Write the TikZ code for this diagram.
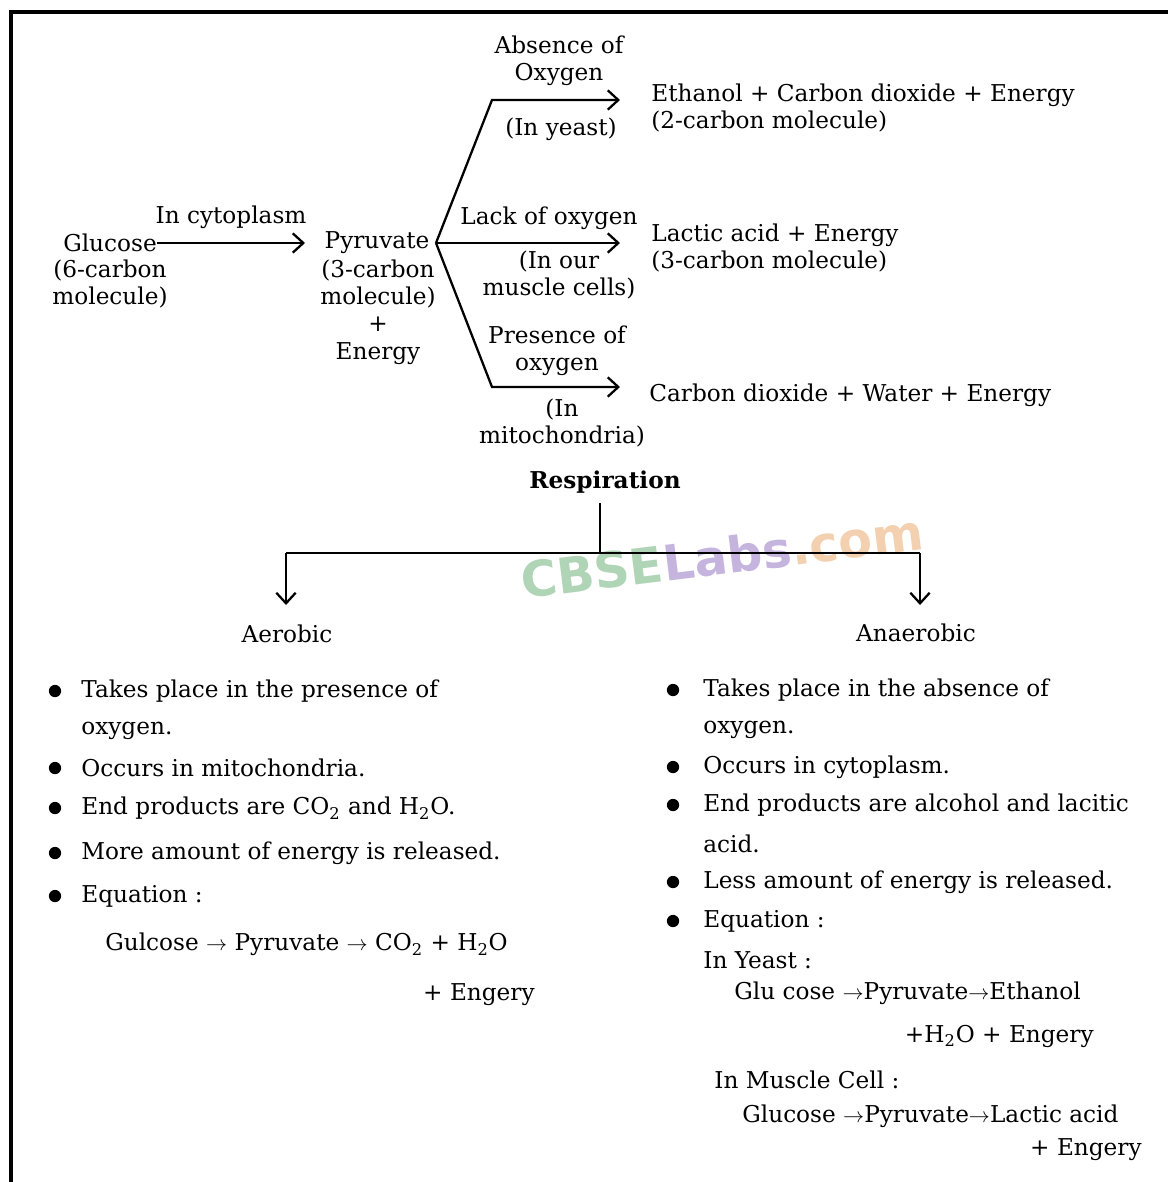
\documentclass[tikz,border=0pt]{standalone}
\usepackage{fontspec}
\setmainfont{DejaVu Serif}
\newfontfamily\markfont{DejaVu Sans}
\usetikzlibrary{arrows.meta,positioning}
\definecolor{markgreen}{RGB}{175,212,182}
\definecolor{markpurple}{RGB}{196,180,222}
\definecolor{markorange}{RGB}{242,208,176}
\tikzset{
  txt/.style={inner sep=0pt, font=\fontsize{13.2}{15.6}\selectfont},
  ctxt/.style={txt, align=center},
  ltxt/.style={txt, anchor=west, align=left},
  rtxt/.style={txt, anchor=east},
  dot/.style={circle, fill=black, inner sep=0pt, minimum size=7pt},
  ln/.style={line width=1.3pt},
  arr/.style={ln, -{Straight Barb[length=6pt,width=11pt]}},
}

\begin{document}
\begin{tikzpicture}[x=0.02cm,y=-0.02cm]
\useasboundingbox (0,0) rectangle (1168,1182);

% watermark
\node[rotate=7, font=\markfont\bfseries\fontsize{28}{28}\selectfont] (mark) at (722,556)
  {\textcolor{markgreen}{CBSE}\textcolor{markpurple}{Labs}\textcolor{markorange}{.com}};

% frame
\draw[line width=2pt] (1168,12) -- (11,12) -- (11,1182);

% glucose to pyruvate
\node[txt] (glu) at (110,243) {Glucose};
\node[ctxt] (glunote) at (110,284) {(6-carbon\\molecule)};
\node[txt] (cyto) at (231,217) {In cytoplasm};
\node[txt] (pyr) at (377,243) {Pyruvate};
\node[ctxt] (pyrnote) at (378,312) {(3-carbon\\molecule)\\+\\Energy};
\coordinate (G) at (305,243);
\draw[arr] (glu.east) -- (G);

% three pathways
\coordinate (J) at (436,243);
\coordinate (B1) at (492,100);
\coordinate (T1) at (620,100);
\coordinate (T2) at (620,243);
\coordinate (B3) at (492,387);
\coordinate (T3) at (620,387);
\draw[arr] (J) -- (B1) -- (T1);
\draw[arr] (J) -- (T2);
\draw[arr] (J) -- (B3) -- (T3);

\node[ctxt] (abs) at (559,61) {Absence of\\Oxygen};
\node[txt] (yeast) at (561,129) {(In yeast)};
\node[txt] (lack) at (549,218) {Lack of oxygen};
\node[ctxt] (muscle) at (559,275) {(In our\\muscle cells)};
\node[ctxt] (pres) at (557,351) {Presence of\\oxygen};
\node[ctxt] (mito) at (562,423) {(In\\mitochondria)};

\node[ltxt] (eth) at (651,108) {Ethanol + Carbon dioxide + Energy\\(2-carbon molecule)};
\node[ltxt] (lac) at (651,248) {Lactic acid + Energy\\(3-carbon molecule)};
\node[ltxt] (cdw) at (649,395) {Carbon dioxide + Water + Energy};

% respiration tree
\node[txt] (resp) at (605,482) {\textbf{Respiration}};
\coordinate (Rtop) at (600,503);
\coordinate (R) at (600,553);
\coordinate (RL) at (286,553);
\coordinate (RR) at (920,553);
\coordinate (AL) at (286,605);
\coordinate (AR) at (920,605);
\draw[ln] (Rtop) -- (R);
\draw[ln] (RL) -- (RR);
\draw[arr] (RL) -- (AL);
\draw[arr] (RR) -- (AR);
\node[txt] (aer) at (287,634) {Aerobic};
\node[txt] (anaer) at (916,633) {Anaerobic};

% aerobic list
\node[dot] (ab1) at (55,691) {};
\node[ltxt] (al1) at (81,691) {Takes place in the presence of};
\node[ltxt] (al1b) at (81,731) {oxygen.};
\node[dot] (ab2) at (55,768) {};
\node[ltxt] (al2) at (81,768) {Occurs in mitochondria.};
\node[dot] (ab3) at (55,808) {};
\node[ltxt] (al3) at (81,808) {End products are CO\textsubscript{2} and H\textsubscript{2}O.};
\node[dot] (ab4) at (55,853) {};
\node[ltxt] (al4) at (81,853) {More amount of energy is released.};
\node[dot] (ab5) at (55,896) {};
\node[ltxt] (al5) at (81,896) {Equation :};
\node[ltxt] (aeq) at (105,944) {Gulcose $\rightarrow$ Pyruvate $\rightarrow$ CO\textsubscript{2} + H\textsubscript{2}O};
\node[rtxt] (aeqb) at (535,995) {+ Engery};

% anaerobic list
\node[dot] (nb1) at (673,690) {};
\node[ltxt] (nl1) at (703,690) {Takes place in the absence of};
\node[ltxt] (nl1b) at (703,730) {oxygen.};
\node[dot] (nb2) at (673,767) {};
\node[ltxt] (nl2) at (703,767) {Occurs in cytoplasm.};
\node[dot] (nb3) at (673,805) {};
\node[ltxt] (nl3) at (703,805) {End products are alcohol and lacitic};
\node[ltxt] (nl3b) at (703,844) {acid.};
\node[dot] (nb4) at (673,882) {};
\node[ltxt] (nl4) at (703,882) {Less amount of energy is released.};
\node[dot] (nb5) at (673,921) {};
\node[ltxt] (nl5) at (703,921) {Equation :};
\node[ltxt] (yst) at (703,960) {In Yeast :};
\node[ltxt] (yeq) at (734,993) {Glu cose $\rightarrow$Pyruvate$\rightarrow$Ethanol};
\node[rtxt] (yeqb) at (1094,1036) {+H\textsubscript{2}O + Engery};
\node[ltxt] (msc) at (714,1080) {In Muscle Cell :};
\node[ltxt] (meq) at (742,1116) {Glucose $\rightarrow$Pyruvate$\rightarrow$Lactic acid};
\node[rtxt] (meqb) at (1142,1150) {+ Engery};
\end{tikzpicture}
\end{document}
